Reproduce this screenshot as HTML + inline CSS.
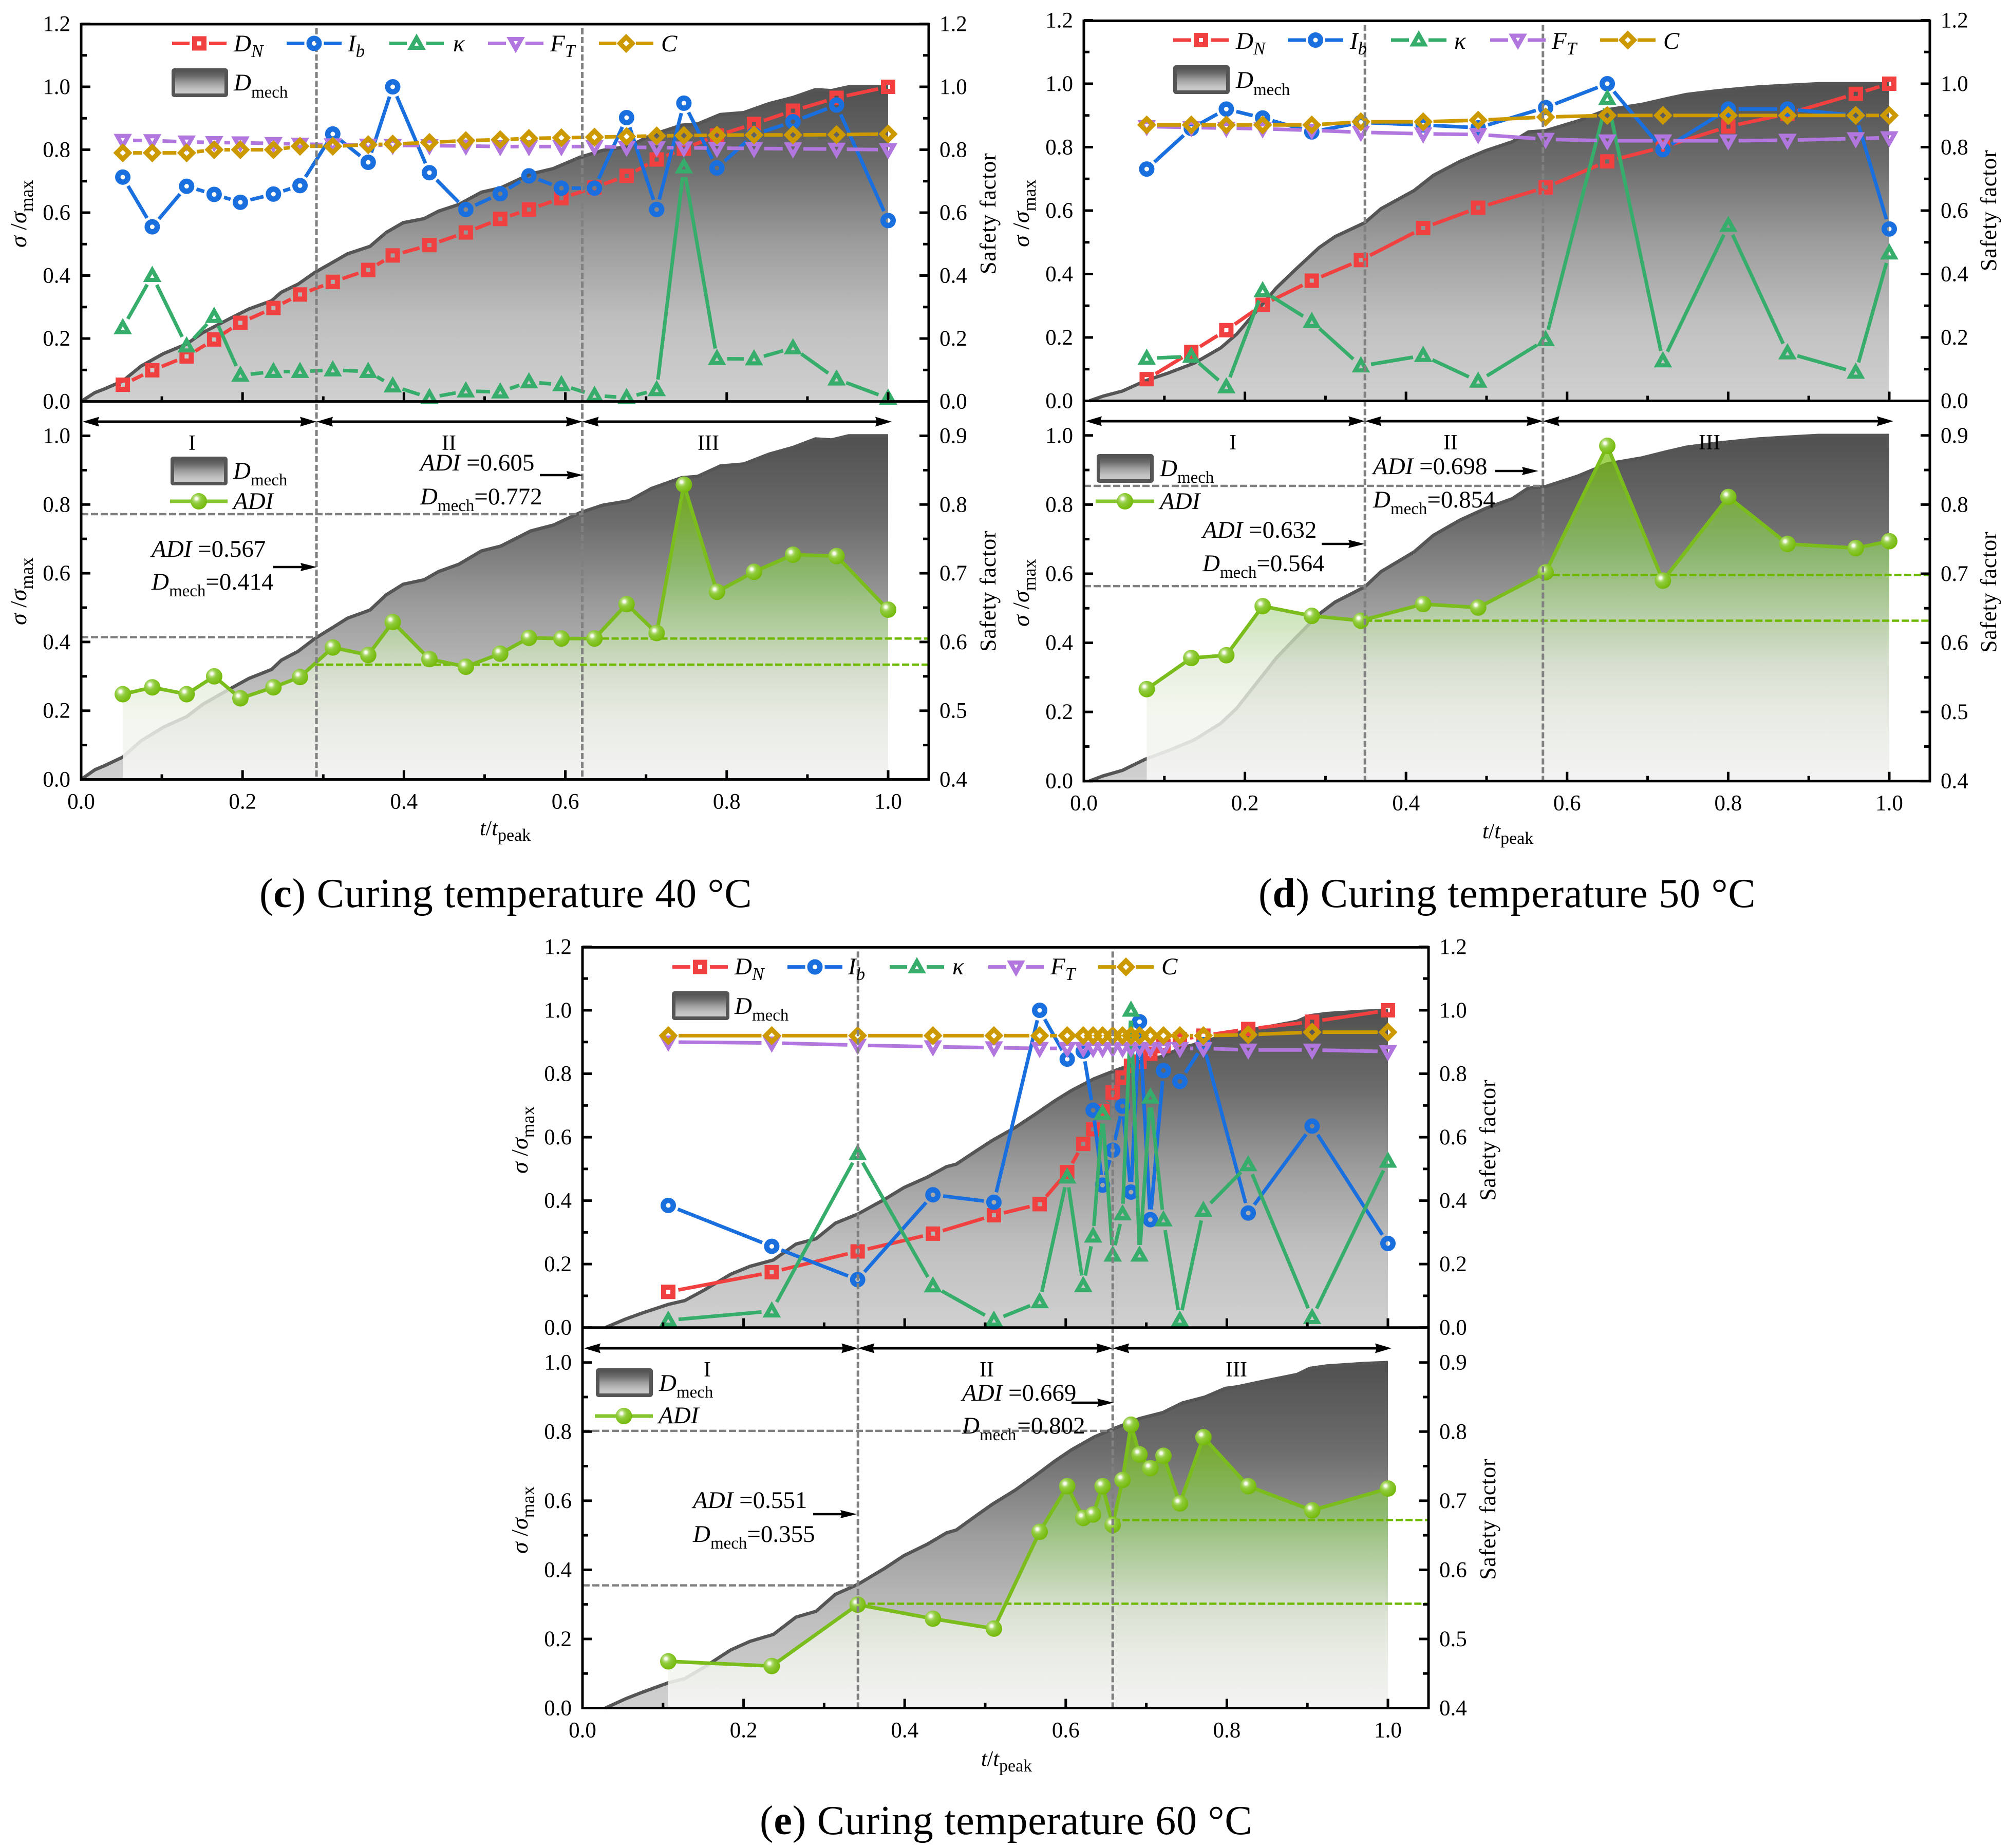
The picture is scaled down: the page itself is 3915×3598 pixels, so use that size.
<!DOCTYPE html>
<html lang="en">
<head>
<meta charset="utf-8">
<title>Safety factor and damage evolution at curing temperatures 40, 50 and 60 °C</title>
<style>
html,body{margin:0;padding:0;background:#fff}
svg{display:block}
text{font-family:"Liberation Serif",serif;fill:#000}
.tick{font-size:43px}
.lg{font-size:47px}
.an{font-size:47px}
.rom{font-size:42px}
.i{font-style:italic}
.sub{font-size:33px}
.lg .sub.i{font-size:35px}
.sf{font-size:44px;letter-spacing:.8px}
.sig{font-size:46px}
.sig .sub{font-size:36px}
.xl{font-size:42px}
.xl .sub{font-size:34px}
.cap{font-size:80px;letter-spacing:.75px}
</style>
</head>
<body>
<svg id="figure" xmlns="http://www.w3.org/2000/svg" width="3915" height="3598" viewBox="0 0 3915 3598">
<defs>
<linearGradient id="mechGrad" x1="0" y1="0" x2="0" y2="1">
<stop offset="0" stop-color="#505050"/><stop offset=".25" stop-color="#6c6c6c"/><stop offset=".5" stop-color="#9d9d9d"/><stop offset=".75" stop-color="#c0c0c0"/><stop offset="1" stop-color="#d0d0d0"/>
</linearGradient>
<linearGradient id="adiGrad" x1="0" y1="0" x2="0" y2="1">
<stop offset="0" stop-color="rgb(119,191,4)" stop-opacity=".72"/><stop offset=".3" stop-color="rgb(139,201,97)" stop-opacity=".72"/><stop offset=".65" stop-color="rgb(225,235,215)" stop-opacity=".78"/><stop offset=".8" stop-color="rgb(241,245,235)" stop-opacity=".8"/><stop offset="1" stop-color="rgb(245,245,245)" stop-opacity=".95"/>
</linearGradient>
<radialGradient id="ball" cx=".36" cy=".34" r=".75">
<stop offset="0" stop-color="#fff"/><stop offset=".12" stop-color="#f0f8e0"/><stop offset=".22" stop-color="#b8de80"/><stop offset=".4" stop-color="#8fcb3a"/><stop offset="1" stop-color="#6fb500"/>
</radialGradient>
</defs>

<g id="panel-c">
<g id="c-marks"></g>
<g>
<text class="lg" x="455" y="100"><tspan class="i">D</tspan><tspan class="sub i" dy="11">N</tspan></text>
<text class="lg" x="677" y="100"><tspan class="i">I</tspan><tspan class="sub i" dy="11">b</tspan></text>
<text class="lg i" x="882" y="100">κ</text>
<text class="lg" x="1071" y="100"><tspan class="i">F</tspan><tspan class="sub i" dy="11">T</tspan></text>
<text class="lg i" x="1287" y="100">C</text>
<text class="lg" x="455" y="176"><tspan class="i">D</tspan><tspan class="sub" dy="14">mech</tspan></text>
</g>
<g>
<text class="lg" x="454" y="932"><tspan class="i">D</tspan><tspan class="sub" dy="13">mech</tspan></text>
<text class="lg i" x="454" y="991">ADI</text>
</g>
<text class="rom" x="374" y="876" text-anchor="middle">I</text>
<text class="rom" x="874" y="876" text-anchor="middle">II</text>
<text class="rom" x="1379" y="876" text-anchor="middle">III</text>
<text class="an" x="295" y="1084"><tspan class="i">ADI</tspan> =0.567</text>
<text class="an" x="295" y="1148"><tspan class="i">D</tspan><tspan class="sub" dy="13">mech</tspan><tspan dy="-13">=0.414</tspan></text>
<text class="an" x="818" y="916"><tspan class="i">ADI</tspan> =0.605</text>
<text class="an" x="818" y="982"><tspan class="i">D</tspan><tspan class="sub" dy="13">mech</tspan><tspan dy="-13">=0.772</tspan></text>
<text class="sig" transform="translate(51 482) rotate(-90)"><tspan class="i">σ</tspan> /<tspan class="i">σ</tspan><tspan class="sub" dy="13">max</tspan></text>
<text class="sig" transform="translate(51 1217) rotate(-90)"><tspan class="i">σ</tspan> /<tspan class="i">σ</tspan><tspan class="sub" dy="13">max</tspan></text>
<text class="sf" transform="translate(1938 534) rotate(-90)">Safety factor</text>
<text class="sf" transform="translate(1938 1269) rotate(-90)">Safety factor</text>
<text class="xl" x="934" y="1626"><tspan class="i">t</tspan>/<tspan class="i">t</tspan><tspan class="sub" dy="11">peak</tspan></text>
<text class="cap" x="505" y="1766">(<tspan font-weight="bold">c</tspan>) Curing temperature 40 °C</text>
</g>

<g id="panel-d">
<g id="d-marks"></g>
<g>
<text class="lg" x="2406" y="95"><tspan class="i">D</tspan><tspan class="sub i" dy="11">N</tspan></text>
<text class="lg" x="2628" y="95"><tspan class="i">I</tspan><tspan class="sub i" dy="11">b</tspan></text>
<text class="lg i" x="2831" y="95">κ</text>
<text class="lg" x="3021" y="95"><tspan class="i">F</tspan><tspan class="sub i" dy="11">T</tspan></text>
<text class="lg i" x="3238" y="95">C</text>
<text class="lg" x="2406" y="171"><tspan class="i">D</tspan><tspan class="sub" dy="14">mech</tspan></text>
</g>
<g>
<text class="lg" x="2258" y="927"><tspan class="i">D</tspan><tspan class="sub" dy="13">mech</tspan></text>
<text class="lg i" x="2258" y="991">ADI</text>
</g>
<text class="rom" x="2400" y="875" text-anchor="middle">I</text>
<text class="rom" x="2824" y="875" text-anchor="middle">II</text>
<text class="rom" x="3328" y="875" text-anchor="middle">III</text>
<text class="an" x="2341" y="1047"><tspan class="i">ADI</tspan> =0.632</text>
<text class="an" x="2341" y="1112"><tspan class="i">D</tspan><tspan class="sub" dy="13">mech</tspan><tspan dy="-13">=0.564</tspan></text>
<text class="an" x="2673" y="923"><tspan class="i">ADI</tspan> =0.698</text>
<text class="an" x="2673" y="988"><tspan class="i">D</tspan><tspan class="sub" dy="13">mech</tspan><tspan dy="-13">=0.854</tspan></text>
<text class="sig" transform="translate(2003 481) rotate(-90)"><tspan class="i">σ</tspan> /<tspan class="i">σ</tspan><tspan class="sub" dy="13">max</tspan></text>
<text class="sig" transform="translate(2003 1220) rotate(-90)"><tspan class="i">σ</tspan> /<tspan class="i">σ</tspan><tspan class="sub" dy="13">max</tspan></text>
<text class="sf" transform="translate(3886 528) rotate(-90)">Safety factor</text>
<text class="sf" transform="translate(3886 1271) rotate(-90)">Safety factor</text>
<text class="xl" x="2886" y="1632"><tspan class="i">t</tspan>/<tspan class="i">t</tspan><tspan class="sub" dy="11">peak</tspan></text>
<text class="cap" x="2450" y="1766">(<tspan font-weight="bold">d</tspan>) Curing temperature 50 °C</text>
</g>

<g id="panel-e">
<g id="e-marks"></g>
<g>
<text class="lg" x="1430" y="1897"><tspan class="i">D</tspan><tspan class="sub i" dy="11">N</tspan></text>
<text class="lg" x="1651" y="1897"><tspan class="i">I</tspan><tspan class="sub i" dy="11">b</tspan></text>
<text class="lg i" x="1854" y="1897">κ</text>
<text class="lg" x="2045" y="1897"><tspan class="i">F</tspan><tspan class="sub i" dy="11">T</tspan></text>
<text class="lg i" x="2261" y="1897">C</text>
<text class="lg" x="1430" y="1974"><tspan class="i">D</tspan><tspan class="sub" dy="13">mech</tspan></text>
</g>
<g>
<text class="lg" x="1283" y="2708"><tspan class="i">D</tspan><tspan class="sub" dy="13">mech</tspan></text>
<text class="lg i" x="1282" y="2771">ADI</text>
</g>
<text class="rom" x="1377" y="2680" text-anchor="middle">I</text>
<text class="rom" x="1921" y="2680" text-anchor="middle">II</text>
<text class="rom" x="2407" y="2680" text-anchor="middle">III</text>
<text class="an" x="1349" y="2936"><tspan class="i">ADI</tspan> =0.551</text>
<text class="an" x="1349" y="3002"><tspan class="i">D</tspan><tspan class="sub" dy="13">mech</tspan><tspan dy="-13">=0.355</tspan></text>
<text class="an" x="1873" y="2727"><tspan class="i">ADI</tspan> =0.669</text>
<text class="an" x="1873" y="2791"><tspan class="i">D</tspan><tspan class="sub" dy="13">mech</tspan><tspan dy="-13" dx="2">=0.802</tspan></text>
<text class="sig" transform="translate(1027 2285) rotate(-90)"><tspan class="i">σ</tspan> /<tspan class="i">σ</tspan><tspan class="sub" dy="13">max</tspan></text>
<text class="sig" transform="translate(1027 3025) rotate(-90)"><tspan class="i">σ</tspan> /<tspan class="i">σ</tspan><tspan class="sub" dy="13">max</tspan></text>
<text class="sf" transform="translate(2911 2338) rotate(-90)">Safety factor</text>
<text class="sf" transform="translate(2911 3076) rotate(-90)">Safety factor</text>
<text class="xl" x="1910" y="3438"><tspan class="i">t</tspan>/<tspan class="i">t</tspan><tspan class="sub" dy="11">peak</tspan></text>
<text class="cap" x="1479" y="3571">(<tspan font-weight="bold">e</tspan>) Curing temperature 60 °C</text>
</g>
</svg>

<script>
// ---------- shared tick labels ----------
const xTickLabels = ['0.0','0.2','0.4','0.6','0.8','1.0'];
const upperTickLabels = ['0.0','0.2','0.4','0.6','0.8','1.0','1.2'];
const lowerLeftTickLabels = ['0.0','0.2','0.4','0.6','0.8','1.0'];
const lowerRightTickLabels = ['0.4','0.5','0.6','0.7','0.8','0.9'];

// ---------- 40 °C ----------
const cTime = [.0516,.0881,.1307,.1648,.1973,.2383,.2712,.3118,.3557,.3861,.4316,.4767,.5193,.5549,.5951,.6361,.6759,.7132,.7469,.7879,.8338,.8821,.9361,1.0];
const cDN = [.053,.099,.143,.197,.25,.297,.34,.38,.418,.464,.497,.537,.58,.61,.646,.68,.717,.769,.803,.845,.882,.924,.965,1.0];
const cIb = [.713,.555,.684,.658,.633,.659,.686,.85,.76,1.0,.727,.61,.66,.717,.678,.678,.902,.61,.948,.742,.848,.889,.942,.575];
const cKappa = [.234,.40,.176,.27,.083,.095,.095,.10,.095,.049,.012,.033,.03,.062,.053,.019,.012,.037,.745,.136,.135,.17,.071,.01];
const cFT = [.83,.829,.825,.823,.822,.82,.818,.816,.815,.814,.813,.812,.81,.81,.81,.81,.808,.807,.806,.805,.804,.803,.802,.80];
const cC = [.79,.79,.79,.80,.80,.80,.811,.811,.816,.818,.823,.829,.832,.836,.838,.84,.842,.844,.845,.846,.847,.847,.848,.85];
const cADI = [.524,.534,.524,.55,.518,.534,.549,.592,.581,.629,.575,.564,.583,.606,.605,.605,.655,.613,.829,.673,.702,.727,.725,.647];
const cMechT = [0,.017,.029,.0516,.074,.102,.131,.151,.184,.208,.236,.248,.269,.289,.313,.33,.358,.378,.399,.425,.443,.468,.496,.52,.557,.585,.618,.646,.679,.707,.744,.764,.792,.821,.853,.882,.91,.93,.951,1.0];
const cMechV = [0,.028,.04,.065,.112,.152,.183,.219,.263,.294,.32,.347,.373,.409,.444,.469,.493,.537,.568,.581,.605,.626,.665,.679,.723,.74,.776,.798,.811,.847,.878,.882,.912,.918,.947,.966,.991,.988,1.0,1.0];
const cStageBounds = [.2916,.621];
const cOnsetADI = [.567,.605];
const cOnsetMech = [.414,.772];

// ---------- 50 °C ----------
const dTime = [.0781,.1334,.1769,.222,.283,.344,.4213,.4896,.5734,.6499,.719,.8002,.8736,.9584,1.0];
const dDN = [.0685,.154,.223,.303,.379,.444,.545,.609,.673,.755,.80,.865,.905,.968,1.0];
const dIb = [.731,.859,.92,.892,.848,.878,.87,.861,.925,1.0,.792,.92,.92,.90,.542];
const dKappa = [.134,.14,.044,.347,.25,.11,.143,.062,.193,.953,.126,.553,.151,.09,.466];
const dFT = [.865,.862,.86,.858,.853,.847,.842,.84,.825,.82,.82,.82,.822,.827,.83];
const dC = [.87,.87,.87,.87,.87,.88,.88,.885,.895,.90,.90,.90,.90,.90,.90];
const dADI = [.533,.578,.582,.653,.639,.632,.656,.651,.702,.885,.69,.811,.743,.737,.747];
const dMechT = [.007,.024,.048,.076,.105,.137,.17,.19,.215,.239,.264,.292,.312,.349,.369,.41,.434,.467,.499,.532,.552,.5734,.614,.65,.693,.724,.748,.787,.838,.873,.912,.946,1.0];
const dMechV = [0,.015,.031,.063,.088,.119,.167,.211,.285,.356,.417,.483,.518,.562,.606,.663,.711,.755,.789,.817,.848,.852,.883,.918,.935,.953,.966,.978,.99,.995,1.0,1.0,1.0];
const dStageBounds = [.349,.570];
const dOnsetADI = [.632,.698];
const dOnsetMech = [.564,.854];

// ---------- 60 °C ----------
const eTime = [.1065,.235,.3416,.4351,.5108,.5676,.6018,.6217,.634,.6457,.6583,.6705,.681,.6916,.705,.7213,.7417,.7709,.8266,.9059,1.0];
const eDN = [.1125,.1745,.24,.296,.354,.389,.49,.579,.625,.681,.741,.788,.825,.838,.863,.887,.908,.92,.941,.964,1.0];
const eIb = [.385,.256,.151,.4185,.395,1.0,.846,.871,.685,.449,.559,.698,.427,.964,.34,.81,.776,.892,.361,.635,.265];
const eKappa = [.023,.052,.548,.131,.023,.081,.474,.132,.288,.675,.228,.358,1.0,.228,.726,.339,.023,.369,.513,.031,.524];
const eFT = [.90,.897,.89,.885,.882,.88,.88,.88,.88,.88,.88,.88,.88,.88,.88,.88,.88,.88,.875,.875,.87];
const eC = [.92,.92,.92,.92,.92,.92,.92,.92,.92,.92,.92,.92,.92,.92,.92,.92,.92,.92,.923,.931,.931];
const eADI = [.4676,.4608,.5496,.5293,.5149,.655,.721,.675,.68,.721,.665,.73,.81,.767,.747,.765,.696,.792,.721,.686,.7176];
const eMechT = [.0285,.0537,.074,.1065,.127,.151,.184,.208,.237,.265,.29,.314,.342,.375,.399,.428,.452,.464,.489,.509,.5375,.562,.586,.607,.635,.66,.692,.7205,.745,.773,.798,.814,.838,.887,.903,.924,.969,1.0];
const eMechV = [0,.027,.0455,.073,.085,.118,.168,.193,.213,.263,.28,.329,.358,.404,.441,.474,.507,.515,.557,.59,.631,.672,.714,.747,.784,.809,.838,.855,.883,.90,.925,.93,.942,.965,.983,.99,.997,1.0];
const eStageBounds = [.342,.6583];
const eOnsetADI = [.551,.672];
const eOnsetMech = [.355,.802];

const SVGNS = 'http://www.w3.org/2000/svg';
function mk(parent, tag, attrs, txt) {
  const el = document.createElementNS(SVGNS, tag);
  for (const k in attrs) el.setAttribute(k, attrs[k]);
  if (txt !== undefined) el.textContent = txt;
  parent.appendChild(el);
  return el;
}

function drawMarker(parent, kind, x, y, color, name) {
  let el;
  if (kind === 'square') {
    el = mk(parent, 'rect', {x: x - 9, y: y - 9, width: 18, height: 18, fill: 'none', stroke: color, 'stroke-width': 10});
  } else if (kind === 'circle') {
    el = mk(parent, 'circle', {cx: x, cy: y, r: 9.75, fill: 'none', stroke: color, 'stroke-width': 10.5});
  } else if (kind === 'up') {
    el = mk(parent, 'polygon', {points: [x, y - 11, x + 11, y + 8.5, x - 11, y + 8.5].join(' '), fill: 'none', stroke: color, 'stroke-width': 8});
  } else if (kind === 'down') {
    el = mk(parent, 'polygon', {points: [x, y + 11, x + 11, y - 8.5, x - 11, y - 8.5].join(' '), fill: 'none', stroke: color, 'stroke-width': 8});
  } else {
    el = mk(parent, 'polygon', {points: [x, y - 12.2, x + 12.2, y, x, y + 12.2, x - 12.2, y].join(' '), fill: 'none', stroke: color, 'stroke-width': 9});
  }
  
  
}

function drawGappedLine(parent, pts, color, name) {
  const gap = 20;
  for (let i = 0; i < pts.length - 1; i++) {
    const a = pts[i], b = pts[i + 1];
    const dx = b[0] - a[0], dy = b[1] - a[1];
    const L = Math.hypot(dx, dy);
    if (L <= 2 * gap) continue;
    const ux = dx / L, uy = dy / L;
    const seg = mk(parent, 'line', {x1: a[0] + ux * gap, y1: a[1] + uy * gap, x2: b[0] - ux * gap, y2: b[1] - uy * gap, stroke: color, 'stroke-width': 7});
    
    
  }
}

function drawSeries(parent, xs, vs, xFn, yFn, kind, color, name) {
  const g = mk(parent, 'g', {});
  
  
  const pts = xs.map((t, i) => [xFn(t), yFn(vs[i])]);
  drawGappedLine(g, pts, color, name);
  pts.forEach(p => drawMarker(g, kind, p[0], p[1], color, name));
}

function drawAdiSeries(parent, xs, vs, xFn, yFn) {
  const g = mk(parent, 'g', {});
  
  
  const pts = xs.map((t, i) => [xFn(t), yFn(vs[i])]);
  const ln = mk(g, 'polyline', {points: pts.map(p => p.join(',')).join(' '), fill: 'none', stroke: '#7abd1c', 'stroke-width': 7});
  
  
  pts.forEach(p => {
    const c = mk(g, 'circle', {cx: p[0], cy: p[1], r: 16, fill: 'url(#ball)'});
    
    
  });
}

function drawMechArea(parent, ts, vs, xFn, yFn) {
  const pts = ts.map((t, i) => xFn(t) + ',' + yFn(vs[i]));
  const area = mk(parent, 'polygon', {points: pts.join(' ') + ' ' + xFn(ts[ts.length - 1]) + ',' + yFn(0), fill: 'url(#mechGrad)'});
  
  
  const ln = mk(parent, 'polyline', {points: pts.join(' '), fill: 'none', stroke: '#555', 'stroke-width': 6.5});
  
  
}

function drawArrowHead(parent, tipX, y, dir, len, hw) {
  const h = mk(parent, 'polygon', {points: [tipX, y, tipX - dir * len, y - hw, tipX - dir * (len - 3), y, tipX - dir * len, y + hw].join(' '), fill: '#000'});
  
  
}

function drawStageArrow(parent, xa, xb, y) {
  const l = mk(parent, 'line', {x1: xa + 10, y1: y, x2: xb - 10, y2: y, stroke: '#000', 'stroke-width': 5});
  
  
  drawArrowHead(parent, xa, y, -1, 32, 9.5);
  drawArrowHead(parent, xb, y, 1, 32, 9.5);
}

function drawAxisLine(parent, x1, y1, x2, y2, w) {
  const l = mk(parent, 'line', {x1: x1, y1: y1, x2: x2, y2: y2, stroke: '#000', 'stroke-width': w, 'stroke-linecap': 'square'});
  
  
}

function drawTick(parent, x1, y1, x2, y2) {
  const l = mk(parent, 'line', {x1: x1, y1: y1, x2: x2, y2: y2, stroke: '#000', 'stroke-width': 5});
  
  
}

function drawLabel(parent, x, y, anchor, str) {
  const t = mk(parent, 'text', {x: x, y: y, 'text-anchor': anchor, class: 'tick'}, str);
  
  
}

function drawYAxis(parent, labels, axisX, dir, yFn, labelX, anchor, minorEnd) {
  const vals = labels.map(Number);
  const step = vals[1] - vals[0];
  vals.forEach((v, i) => {
    const y = yFn(v);
    drawTick(parent, axisX, y, axisX + dir * 18, y);
    drawLabel(parent, labelX, y + 14, anchor, labels[i]);
    const next = v + step / 2;
    if (next <= minorEnd + 1e-6) drawTick(parent, axisX, yFn(next), axisX + dir * 11, yFn(next));
  });
}

function drawXTicks(parent, labels, xFn, axisY, showLabels) {
  labels.map(Number).forEach((v, i) => {
    const x = xFn(v);
    drawTick(parent, x, axisY, x, axisY - 18);
    if (i < labels.length - 1) drawTick(parent, xFn(v + 0.1), axisY, xFn(v + 0.1), axisY - 10);
    if (showLabels) drawLabel(parent, x, axisY + 57, 'middle', labels[i]);
  });
}

function drawHLine(parent, x1, x2, y, color, w, name) {
  const l = mk(parent, 'line', {x1: x1, y1: y, x2: x2, y2: y, stroke: color, 'stroke-width': w, 'stroke-dasharray': '14 5'});
  
  
}

function drawLegendLine(parent, x1, x2, y, kind, color, name) {
  const mid = (x1 + x2) / 2;
  const a = mk(parent, 'line', {x1: x1, y1: y, x2: mid - 19, y2: y, stroke: color, 'stroke-width': 7});
  
  
  const b = mk(parent, 'line', {x1: mid + 19, y1: y, x2: x2, y2: y, stroke: color, 'stroke-width': 7});
  
  
  drawMarker(parent, kind, mid, y, color, name + '-legend');
}

function drawLegendBox(parent, x1, y1, x2, y2) {
  const r = mk(parent, 'rect', {x: x1 + 3.5, y: y1 + 3.5, width: x2 - x1 - 7, height: y2 - y1 - 7, fill: 'url(#mechGrad)', stroke: '#555', 'stroke-width': 7, rx: 2});
  
  
}

function drawAdiLegend(parent, x1, x2, y) {
  const l = mk(parent, 'line', {x1: x1, y1: y, x2: x2, y2: y, stroke: '#86c62f', 'stroke-width': 7});
  
  
  const c = mk(parent, 'circle', {cx: (x1 + x2) / 2, cy: y, r: 16, fill: 'url(#ball)'});
  
  
}

const COLORS = {dn: '#f14040', ib: '#1a6fdf', kappa: '#37ad6b', ft: '#b177de', c: '#cc9900'};

function drawPanel(rootId, g, t, dn, ib, kp, ft, cc, adi, mT, mV, bounds, onsetA, onsetM, lay) {
  const root = document.getElementById(rootId);
  const xS = v => g.x0 + v * (g.x1 - g.x0);
  const upY = v => g.yMid - v * (g.yMid - g.u1);
  const loY = v => g.yBot - v * (g.yBot - g.l1);
  const sfY = s => loY((s - 0.4) / 0.5);
  const b1 = xS(bounds[0]), b2 = xS(bounds[1]);

  // upper
  drawMechArea(root, mT, mV, xS, upY);
  drawSeries(root, t, dn, xS, upY, 'square', COLORS.dn, 'dn');
  drawSeries(root, t, ib, xS, upY, 'circle', COLORS.ib, 'ib');
  drawSeries(root, t, kp, xS, upY, 'up', COLORS.kappa, 'kappa');
  drawSeries(root, t, ft, xS, upY, 'down', COLORS.ft, 'ft');
  drawSeries(root, t, cc, xS, upY, 'diamond', COLORS.c, 'c');

  // lower
  drawMechArea(root, mT, mV, xS, loY);
  const adiPts = t.map((v, i) => xS(v) + ',' + sfY(adi[i]));
  const adiArea = mk(root, 'polygon', {points: adiPts.join(' ') + ' ' + xS(t[t.length - 1]) + ',' + loY(0) + ' ' + xS(t[0]) + ',' + loY(0), fill: 'url(#adiGrad)'});
  
  
  drawHLine(root, g.x0, b1, loY(onsetM[0]), '#808080', 4.5, 'dmech-guide-1');
  drawHLine(root, g.x0, b2, loY(onsetM[1]), '#808080', 4.5, 'dmech-guide-2');
  drawHLine(root, b1, g.xr, sfY(onsetA[0]), '#6eb800', 4.5, 'adi-guide-1');
  drawHLine(root, b2, g.xr, sfY(onsetA[1]), '#6eb800', 4.5, 'adi-guide-2');
  drawAdiSeries(root, t, adi, xS, sfY);

  // stage boundaries
  bounds.forEach(b => {
    const v = mk(root, 'line', {x1: xS(b), y1: g.yTop + 8, x2: xS(b), y2: g.yBot, stroke: '#808080', 'stroke-width': 5, 'stroke-dasharray': '12 5'});
    
    
  });

  // stage arrows
  drawStageArrow(root, g.x0 + 3, b1, lay.arrowY);
  drawStageArrow(root, b1, b2, lay.arrowY);
  drawStageArrow(root, b2, lay.arrowEnd, lay.arrowY);

  // annotation arrows
  lay.notes.forEach(n => {
    const l = mk(root, 'line', {x1: n[0], y1: n[2], x2: n[1] - 20, y2: n[2], stroke: '#000', 'stroke-width': 4.5});
    
    
    drawArrowHead(root, n[1], n[2], 1, 32, 8);
  });

  // legends
  const L = lay.legend;
  drawLegendLine(root, L.dn[0], L.dn[1], L.y, 'square', COLORS.dn, 'dn');
  drawLegendLine(root, L.ib[0], L.ib[1], L.y, 'circle', COLORS.ib, 'ib');
  drawLegendLine(root, L.kp[0], L.kp[1], L.y, 'up', COLORS.kappa, 'kappa');
  drawLegendLine(root, L.ft[0], L.ft[1], L.y, 'down', COLORS.ft, 'ft');
  drawLegendLine(root, L.c[0], L.c[1], L.y, 'diamond', COLORS.c, 'c');
  drawLegendBox(root, L.box[0], L.box[1], L.box[2], L.box[3]);
  drawLegendBox(root, L.lbox[0], L.lbox[1], L.lbox[2], L.lbox[3]);
  drawAdiLegend(root, L.adi[0], L.adi[1], L.adi[2]);

  // axes
  drawAxisLine(root, g.x0, g.yTop, g.xr, g.yTop, 5);
  drawAxisLine(root, g.x0, g.yTop, g.x0, g.yBot, 5);
  drawAxisLine(root, g.xr, g.yTop, g.xr, g.yBot, 5);
  drawAxisLine(root, g.x0, g.yMid, g.xr, g.yMid, 5);
  drawAxisLine(root, g.x0, g.yBot, g.xr, g.yBot, 5);
  drawYAxis(root, upperTickLabels, g.x0, 1, upY, g.x0 - 21, 'end', 1.2);
  drawYAxis(root, upperTickLabels, g.xr, -1, upY, g.xr + 21, 'start', 1.2);
  drawYAxis(root, lowerLeftTickLabels, g.x0, 1, loY, g.x0 - 21, 'end', 1.0);
  drawYAxis(root, lowerRightTickLabels, g.xr, -1, sfY, g.xr + 21, 'start', 0.9);
  drawXTicks(root, xTickLabels, xS, g.yMid, false);
  drawXTicks(root, xTickLabels, xS, g.yBot, true);
}

drawPanel('c-marks', {x0: 158, x1: 1729, xr: 1808, yTop: 47, u1: 169, yMid: 781.6, l1: 848.5, yBot: 1517.5},
  cTime, cDN, cIb, cKappa, cFT, cC, cADI, cMechT, cMechV, cStageBounds, cOnsetADI, cOnsetMech,
  {arrowY: 821, arrowEnd: 1736, notes: [[532, 617, 1104], [1051, 1135, 925]],
   legend: {y: 84.5, dn: [335, 441], ib: [558, 665], kp: [758, 864], ft: [950, 1058], c: [1166, 1272],
            box: [334, 133, 444, 189], lbox: [332, 889, 443, 945], adi: [331, 443, 976]}});

drawPanel('d-marks', {x0: 2110, x1: 3678, xr: 3757, yTop: 40.5, u1: 163, yMid: 780.5, l1: 847.8, yBot: 1520.7},
  dTime, dDN, dIb, dKappa, dFT, dC, dADI, dMechT, dMechV, dStageBounds, dOnsetADI, dOnsetMech,
  {arrowY: 820, arrowEnd: 3686, notes: [[2573, 2657, 1059], [2911, 2995, 917]],
   legend: {y: 78, dn: [2284, 2392], ib: [2507, 2615], kp: [2708, 2816], ft: [2901, 3009], c: [3115, 3223],
            box: [2284, 127, 2394, 183], lbox: [2135, 884, 2246, 940], adi: [2133, 2247, 976]}});

drawPanel('e-marks', {x0: 1134, x1: 2702, xr: 2781, yTop: 1844.4, u1: 1967, yMid: 2584.7, l1: 2652.7, yBot: 3325.5},
  eTime, eDN, eIb, eKappa, eFT, eC, eADI, eMechT, eMechV, eStageBounds, eOnsetADI, eOnsetMech,
  {arrowY: 2625, arrowEnd: 2709, notes: [[1583, 1668, 2948], [2086, 2168, 2731]],
   legend: {y: 1882.6, dn: [1309, 1417], ib: [1533, 1640], kp: [1732, 1838], ft: [1924, 2032], c: [2138, 2246],
            box: [1308, 1930, 1420, 1986], lbox: [1160, 2664, 1271, 2720], adi: [1158, 1271, 2757]}});
</script>
</body>
</html>
